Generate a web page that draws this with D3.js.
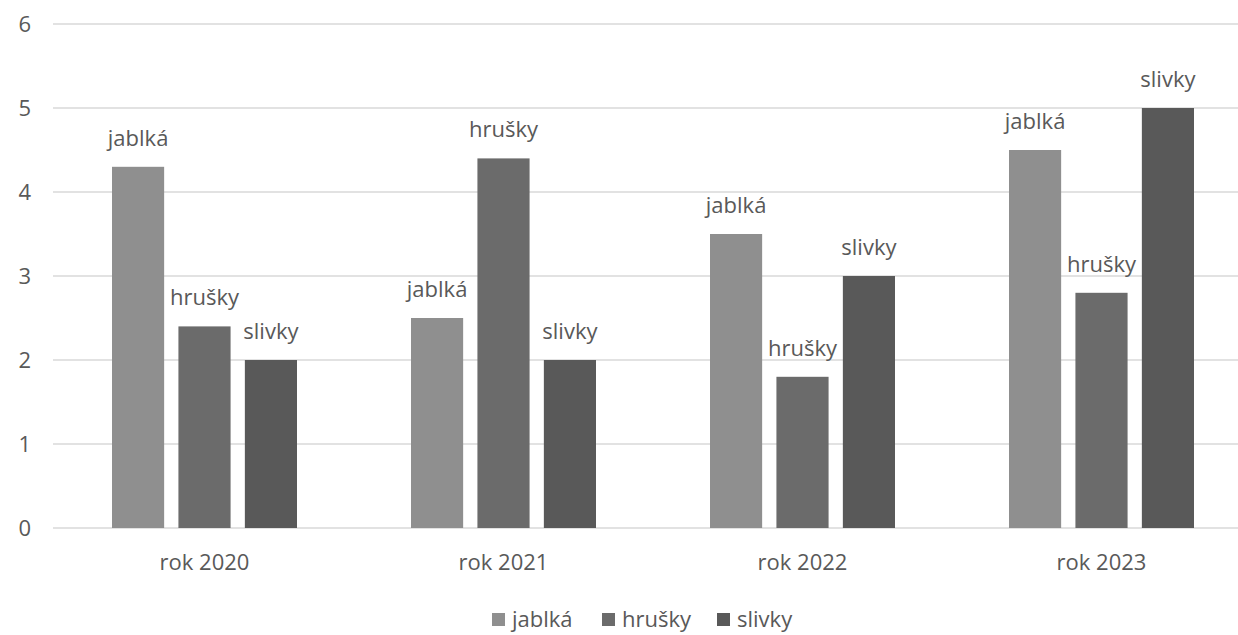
<!DOCTYPE html>
<html><head><meta charset="utf-8">
<script src="https://cdn.jsdelivr.net/npm/d3@7"></script>
<style>
html,body{margin:0;padding:0;background:#fff;}
svg text{font-family:"Open Sans",sans-serif;fill:#595959;}
</style></head>
<body><svg id="c" width="1238" height="635"></svg>
<script>
const categories = ["rok 2020","rok 2021","rok 2022","rok 2023"];
const seriesNames = ["jablká","hrušky","slivky"];
const jablka = [4.3, 2.5, 3.5, 4.5];
const hrusky = [2.4, 4.4, 1.8, 2.8];
const slivky = [2.0, 2.0, 3.0, 5.0];
const yTicks = [0,1,2,3,4,5,6];
const colors = ["#8f8f8f","#6b6b6b","#595959"];

const seriesValues = [jablka, hrusky, slivky];
const svg = d3.select("#c");
const fs = 22;

const x = d3.scaleBand().domain(categories).range([55, 1251]).paddingInner(0).paddingOuter(0);
const y = d3.scaleLinear().domain([0,6]).range([528, 24]);
const groupW = 185;
const xs = d3.scaleBand().domain(seriesNames).range([0, groupW]).paddingInner(0.215).paddingOuter(0);

// gridlines
svg.append("g").selectAll("line").data(yTicks).join("line")
  .attr("x1", 53).attr("x2", 1238)
  .attr("y1", d => y(d)).attr("y2", d => y(d))
  .attr("stroke", "#d9d9d9").attr("stroke-width", 1.3);

// y axis labels
const yAxis = d3.axisLeft(y).tickValues(yTicks).tickFormat(d3.format("d")).tickSize(0).tickPadding(0);
const ya = svg.append("g").attr("transform", "translate(31,0)").call(yAxis);
ya.select(".domain").remove();
ya.selectAll("text").style("font-size", fs+"px").attr("fill","#595959").attr("font-family","Open Sans");

// x axis labels
const xAxis = d3.axisBottom(x).tickSize(0).tickPadding(0);
const xa = svg.append("g").attr("transform", "translate(0,554)").call(xAxis);
xa.select(".domain").remove();
xa.selectAll("text").style("font-size", fs+"px").attr("fill","#595959").attr("font-family","Open Sans");

// bars
const groups = svg.append("g").selectAll("g").data(categories).join("g")
  .attr("transform", c => `translate(${x(c) + x.bandwidth()/2 - groupW/2},0)`);
groups.each(function(c, ci) {
  const g = d3.select(this);
  seriesNames.forEach((s, si) => {
    const v = seriesValues[si][ci];
    g.append("rect")
      .attr("x", xs(s)).attr("width", xs.bandwidth())
      .attr("y", y(v)).attr("height", y(0) - y(v))
      .attr("fill", colors[si]);
    g.append("text")
      .attr("x", xs(s) + xs.bandwidth()/2).attr("y", y(v) - 21)
      .attr("text-anchor", "middle").style("font-size", fs+"px")
      .text(s);
  });
});

// legend
const legend = svg.append("g");
const legendX = [492, 602, 717];
seriesNames.forEach((s, i) => {
  legend.append("rect").attr("x", legendX[i]).attr("y", 613).attr("width", 13).attr("height", 13).attr("fill", colors[i]);
  legend.append("text").attr("x", legendX[i] + 20).attr("y", 627).style("font-size", fs+"px").text(s);
});
</script></body></html>
